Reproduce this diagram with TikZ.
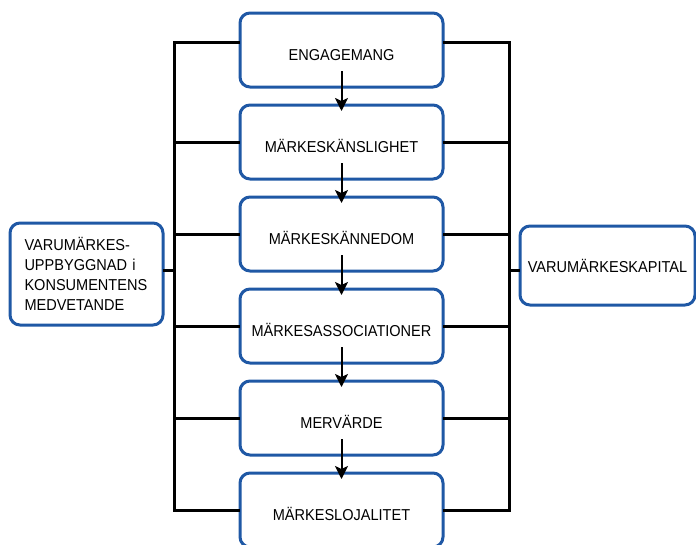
\documentclass[tikz,border=0pt]{standalone}
\usepackage{fontspec}
\setmainfont{Liberation Sans}[FakeStretch=0.92]
\usepackage{tikz}
\usetikzlibrary{calc,arrows.meta}
\definecolor{boxblue}{RGB}{31,88,165}
\tikzset{
  stepbox/.style={
    draw=boxblue, line width=3pt, rounded corners=10pt, outer sep=0pt,
    minimum width=203pt, minimum height=74pt,
    font=\fontsize{15.8}{20}\selectfont, text height=20pt, text depth=0pt
  },
  sidebox/.style={
    draw=boxblue, line width=3pt, rounded corners=10pt, outer sep=0pt,
    font=\fontsize{15.8}{20}\selectfont
  },
  bus/.style={line width=3pt, line join=miter},
  flow/.style={line width=2pt, -{Stealth[length=13pt,width=13pt,inset=3pt]}}
}

\begin{document}
\begin{tikzpicture}[x=1pt,y=-1pt]
  \useasboundingbox (0,0) rectangle (696,544);

  \node[stepbox] (eng)   at (341.5,50)  {ENGAGEMANG};
  \node[stepbox] (kans)  at (341.5,142) {MÄRKESKÄNSLIGHET};
  \node[stepbox] (kann)  at (341.5,234) {MÄRKESKÄNNEDOM};
  \node[stepbox] (assoc) at (341.5,326) {MÄRKESASSOCIATIONER};
  \node[stepbox] (merv)  at (341.5,418) {MERVÄRDE};
  \node[stepbox] (loj)   at (341.5,510) {MÄRKESLOJALITET};

  \node[sidebox, minimum width=153pt, minimum height=102pt,
        text width=124pt, align=left] (uppb) at (86.5,274)
    {VARUMÄRKES-\\UPPBYGGNAD i\\KONSUMENTENS\\MEDVETANDE};
  \node[sidebox, minimum width=175pt, minimum height=79pt] (kap) at (607.5,265.5)
    {VARUMÄRKESKAPITAL};

  \coordinate (ltop) at (174,42);
  \coordinate (rtop) at (509,42);
  \coordinate (mid) at (0,270);

  % Left and right bus lines
  \draw[bus] (ltop -| eng.west) -- (ltop) -- (ltop |- loj.west) -- (loj.west);
  \draw[bus] (rtop -| eng.east) -- (rtop) -- (rtop |- loj.east) -- (loj.east);
  \draw[bus] (kans.west -| ltop) -- (kans.west)
             (kann.west -| ltop) -- (kann.west)
             (assoc.west -| ltop) -- (assoc.west)
             (merv.west -| ltop) -- (merv.west);
  \draw[bus] (kans.east) -- (kans.east -| rtop)
             (kann.east) -- (kann.east -| rtop)
             (assoc.east) -- (assoc.east -| rtop)
             (merv.east) -- (merv.east -| rtop);
  \draw[bus] (uppb.east |- mid) -- (ltop |- mid);
  \draw[bus] (rtop |- mid) -- (kap.west |- mid);

  % Steps
  \draw[flow] ([yshift=16pt]eng.south)   -- ([yshift=-6pt]kans.north);
  \draw[flow] ([yshift=16pt]kans.south)  -- ([yshift=-6pt]kann.north);
  \draw[flow] ([yshift=16pt]kann.south)  -- ([yshift=-6pt]assoc.north);
  \draw[flow] ([yshift=16pt]assoc.south) -- ([yshift=-6pt]merv.north);
  \draw[flow] ([yshift=16pt]merv.south)  -- ([yshift=-6pt]loj.north);
\end{tikzpicture}
\end{document}
